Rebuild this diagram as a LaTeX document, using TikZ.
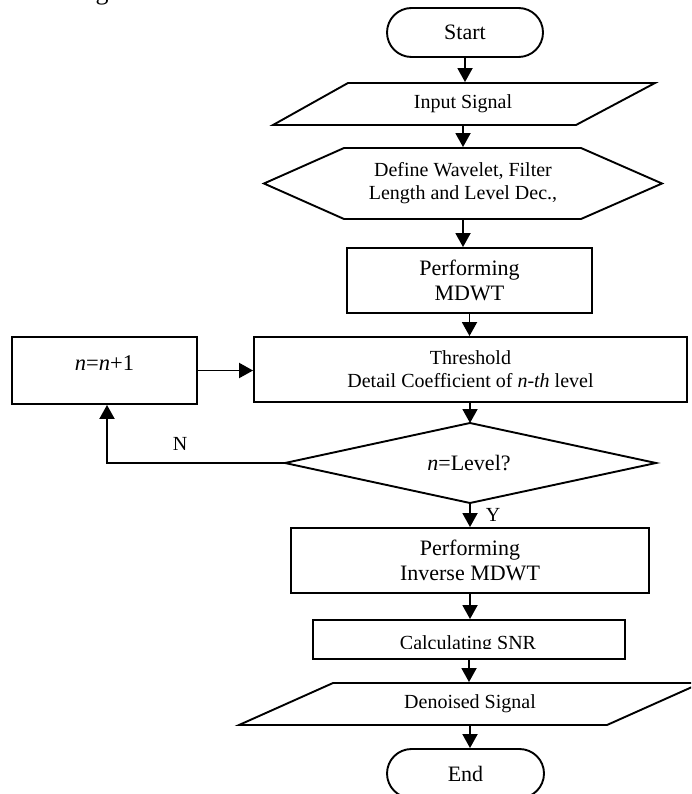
\documentclass[tikz,border=0pt]{standalone}
\usepackage{fontspec}
\setmainfont{Liberation Serif}
\usetikzlibrary{arrows.meta}
\begin{document}
\begin{tikzpicture}[x=1pt,y=-1pt,
  line width=1.9pt,
  arr/.style={-{Triangle[length=14pt,width=15pt]}, line width=1.9pt},
  tA/.style={font=\fontsize{20}{23}\selectfont},
  tB/.style={font=\fontsize{22}{25}\selectfont},
  box/.style={draw, rectangle, inner sep=0pt},
  term/.style={draw, rectangle, rounded corners=24.5pt, inner sep=0pt, minimum width=156pt, minimum height=49pt},
  lbl/.style={tA, inner sep=0pt}
]
\useasboundingbox (0,0) rectangle (691,794);
\clip (0,0) rectangle (691,794);

% fragment of caption above
\node[font=\fontsize{26}{30}\selectfont, anchor=base, inner sep=0pt] (gfrag) at (102,0) {g};

% Start
\node[term, tB] (start) at (465,32.5) {Start};

% Input Signal (parallelogram)
\draw (348,83) -- (655,83) -- (576,125) -- (273,125) -- cycle;
\node[tA, inner sep=0pt, minimum height=42pt] (input) at (463,104) {Input Signal};

% Define (hexagon)
\draw (344,148) -- (581,148) -- (662,183.5) -- (581,219) -- (344,219) -- (264,183.5) -- cycle;
\node[tA, inner sep=0pt, minimum height=71pt, align=center] (define) at (463,183.5) {Define Wavelet, Filter\\Length and Level Dec.,};

% Performing MDWT
\node[box, tB, align=center, minimum width=245pt, minimum height=65pt] (mdwt) at (469.5,280.5) {Performing\\MDWT};

% Threshold
\node[box, tA, align=center, minimum width=433pt, minimum height=65pt] (thr) at (470.5,369.5) {Threshold\\Detail Coefficient of \textit{n-th} level};

% n=n+1
\node[box, font=\fontsize{22.5}{26}\selectfont, minimum width=185pt, minimum height=67pt, text depth=14pt] (inc) at (104.5,370.5) {\textit{n}=\textit{n}+1};

% Decision diamond
\coordinate (diaT) at (470,423);
\coordinate (diaB) at (470,503);
\coordinate (diaL) at (285,463);
\coordinate (diaR) at (656,463);
\draw (diaT) -- (diaR) -- (diaB) -- (diaL) -- cycle;
\node[tB, inner sep=0pt] (dia) at (469,463) {\textit{n}=Level?};

% Inverse MDWT
\node[box, tB, align=center, minimum width=358pt, minimum height=65pt] (inv) at (470,560.5) {Performing\\Inverse MDWT};

% Calculating SNR (text clipped at bottom)
\node[box, minimum width=312pt, minimum height=39pt] (calc) at (469,639.5) {};
\begin{scope}
  \clip (314,621) rectangle (624,648.3);
  \node[tA, anchor=base, inner sep=0pt] (calctext) at (468,649.5) {Calculating SNR};
\end{scope}

% Denoised Signal (parallelogram)
\draw (333,683) -- (701,683) -- (607,725) -- (239,725) -- cycle;
\node[tA, inner sep=0pt, minimum height=42pt] (den) at (470,704) {Denoised Signal};

% End
\node[term, tB, minimum width=157pt] (end) at (465.5,773.5) {End};

% Labels
\node[lbl] (nlab) at (180,444) {N};
\node[lbl] (ylab) at (493,515) {Y};

% Connectors
\draw[arr] (start) -- (start |- input.north);
\draw[arr] (input) -- (input |- define.north);
\draw[arr] (define) -- (define |- mdwt.north);
\draw[arr] (mdwt) -- (mdwt |- thr.north);
\draw[arr] (thr.south -| diaT) -- (diaT);
\draw[arr] (inc) -- (inc -| thr.west);
\coordinate (loopc) at (107,463);
\draw[arr] (diaL) -- (loopc) -- (loopc |- inc.south);
\draw[arr] (diaB) -- (diaB |- inv.north);
\draw[arr] (inv) -- (inv |- calc.north);
\draw[arr] (calc) -- (calc |- den.north);
\draw[arr] (den) -- (den |- end.north);
\end{tikzpicture}
\end{document}
